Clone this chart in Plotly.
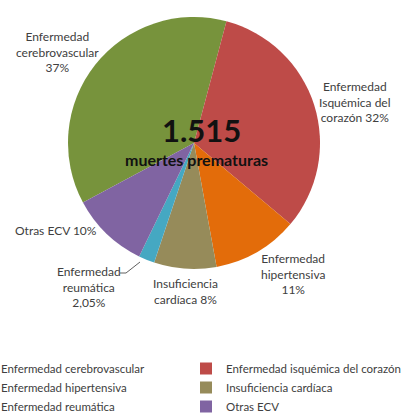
import plotly.graph_objects as go

VIEW = 414          # visible window (pixels)
FW = 446            # figure width: a bit wider than the window so the legend's right column sits like the reference
H = 414
MB = 70             # bottom margin reserved for the legend

categories = [
    "Enfermedad cerebrovascular",
    "Enfermedad isquémica del corazón",
    "Enfermedad hipertensiva",
    "Insuficiencia cardíaca",
    "Enfermedad reumática",
    "Otras ECV",
]
values = [37, 32, 11, 8, 2.05, 10]
slice_labels = [
    "Enfermedad<br>cerebrovascular<br>37%",
    "Enfermedad<br>Isquémica del<br>corazón 32%",
    "Enfermedad<br>hipertensiva<br>11%",
    "Insuficiencia<br>cardíaca 8%",
    "Enfermedad<br>reumática<br>2,05%",
    "Otras ECV 10%",
]
colors = ["#77933C", "#BE4B48", "#E36C0A", "#968B5A", "#45A8C2", "#8064A2"]
total_text = "1.515"
sub_text = "muertes prematuras"

# pie placement (pixels, measured from the top-left of the window)
cx, cy, r = 194, 143, 126
PH = H - MB


def px(x):
    return x / FW


def py(y):
    return (PH - y) / PH


fig = go.Figure(
    go.Pie(
        labels=categories,
        values=values,
        sort=False,
        direction="clockwise",
        rotation=15 - values[0] * 3.6,
        marker=dict(colors=colors, line=dict(width=0)),
        textinfo="none",
        hoverinfo="label+percent",
        domain=dict(x=[px(cx - r), px(cx + r)], y=[py(cy + r), py(cy - r)]),
    )
)

label_pos = [(57, 52), (355, 102), (293, 274), (185, 291), (89, 287), (56, 230)]
annotations = []
for txt, (x, y) in zip(slice_labels, label_pos):
    annotations.append(
        dict(
            text=txt, x=px(x), y=py(y), xref="paper", yref="paper",
            showarrow=False, xanchor="center", yanchor="middle", align="center",
            font=dict(family="Lato", size=12, color="#404040"),
        )
    )
annotations.append(
    dict(text="<b>" + total_text + "</b>", x=px(201), y=py(130), xref="paper", yref="paper",
         xanchor="center", yanchor="middle", showarrow=False,
         font=dict(family="Lato", size=31, color="#111111"))
)
annotations.append(
    dict(text="<b>" + sub_text + "</b>", x=px(196), y=py(159), xref="paper", yref="paper",
         xanchor="center", yanchor="middle", showarrow=False,
         font=dict(family="Lato", size=16, color="#111111"))
)

shapes = [
    dict(type="path", xref="paper", yref="paper",
         path=f"M {px(120)},{py(273)} L {px(126)},{py(273)} L {px(140)},{py(262)}",
         line=dict(color="#606060", width=1))
]

fig.update_layout(
    width=FW, height=H,
    margin=dict(l=0, r=0, t=0, b=MB, autoexpand=False),
    paper_bgcolor="white", plot_bgcolor="white",
    annotations=annotations,
    shapes=shapes,
    showlegend=True,
    legend=dict(
        orientation="h",
        x=px(-39), y=py(354), xanchor="left", yanchor="top",
        entrywidth=180, entrywidthmode="pixels",
        font=dict(family="Lato", size=11.5, color="#404040"),
        bgcolor="rgba(0,0,0,0)",
    ),
)

fig.write_html(
    "out.html",
    config={"displayModeBar": False},
    post_script="document.body.style.margin='0';document.body.style.overflow='hidden';"
                "document.documentElement.style.overflow='hidden';",
)
